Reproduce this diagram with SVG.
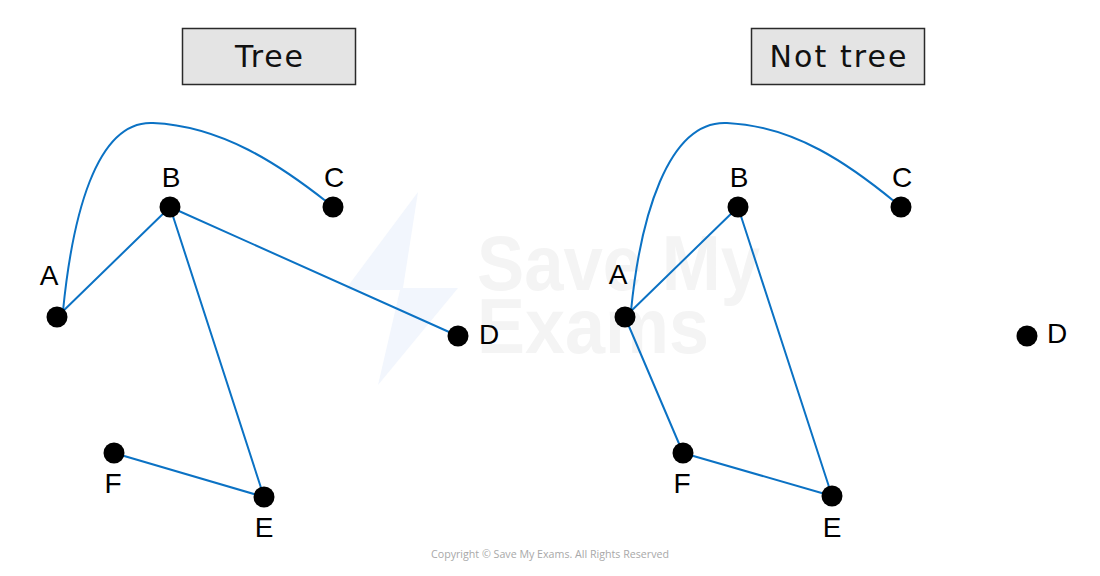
<svg xmlns="http://www.w3.org/2000/svg" width="1100" height="576" viewBox="0 0 1100 576">
<style>
.edge{fill:none;stroke:#0b72c4;stroke-width:2;stroke-linecap:round}
.node{fill:#000}
.lbl{font-family:"Liberation Sans",Arial,sans-serif;font-size:28px;fill:#000}
.title{font-family:"DejaVu Sans",sans-serif;font-size:30px;fill:#111}
.box{fill:#e4e4e4;stroke:#2a2a2a;stroke-width:1.5}
</style>
<rect width="1100" height="576" fill="#fff"/>
<g id="watermark">
<polygon points="418,192 345,290 400,290 378,385 458,288 403,288" fill="#f2f6fd"/>
<text x="477" y="290" font-family="Liberation Sans,Arial,sans-serif" font-size="78" font-weight="bold" fill="#f4f4f4" textLength="283" lengthAdjust="spacingAndGlyphs">Save My</text>
<text x="477" y="353" font-family="Liberation Sans,Arial,sans-serif" font-size="78" font-weight="bold" fill="#f4f4f4" textLength="232" lengthAdjust="spacingAndGlyphs">Exams</text>
</g>
<g id="title-tree">
<rect class="box" x="182.5" y="28.5" width="173" height="56"/>
<text class="title" x="269" y="67" text-anchor="middle" textLength="68" lengthAdjust="spacing">Tree</text>
</g>
<g id="title-not-tree">
<rect class="box" x="751.5" y="28.5" width="173" height="56"/>
<text class="title" x="838" y="67" text-anchor="middle" textLength="137" lengthAdjust="spacing">Not tree</text>
</g>
<g id="connectors">
<path class="edge" d="M 63 311 C 72 220 95 120 153 123 C 222 126 280 165 327 202"/>
<line class="edge" x1="57" y1="317" x2="170" y2="207"/>
<line class="edge" x1="170" y1="207" x2="458" y2="336"/>
<line class="edge" x1="170" y1="207" x2="264" y2="497"/>
<line class="edge" x1="114" y1="453" x2="264" y2="497"/>
<path class="edge" d="M 631 311 C 640 220 667 120 727 123 C 795 126 850 165 895 202"/>
<line class="edge" x1="625" y1="317" x2="738" y2="207"/>
<line class="edge" x1="738" y1="207" x2="832" y2="496"/>
<line class="edge" x1="625" y1="317" x2="683" y2="453"/>
<line class="edge" x1="683" y1="453" x2="832" y2="496"/>
</g>
<g id="L-A"><circle class="node" cx="57" cy="317" r="10.5"/><text class="lbl" x="49" y="285" text-anchor="middle">A</text></g>
<g id="L-B"><circle class="node" cx="170" cy="207" r="10.5"/><text class="lbl" x="171" y="187" text-anchor="middle">B</text></g>
<g id="L-C"><circle class="node" cx="333" cy="207" r="10.5"/><text class="lbl" x="334" y="187" text-anchor="middle">C</text></g>
<g id="L-D"><circle class="node" cx="458" cy="336" r="10.5"/><text class="lbl" x="479" y="344">D</text></g>
<g id="L-E"><circle class="node" cx="264" cy="497" r="10.5"/><text class="lbl" x="264" y="537" text-anchor="middle">E</text></g>
<g id="L-F"><circle class="node" cx="114" cy="453" r="10.5"/><text class="lbl" x="113" y="493" text-anchor="middle">F</text></g>
<g id="R-A"><circle class="node" cx="625" cy="317" r="10.5"/><text class="lbl" x="618" y="284" text-anchor="middle">A</text></g>
<g id="R-B"><circle class="node" cx="738" cy="207" r="10.5"/><text class="lbl" x="739" y="187" text-anchor="middle">B</text></g>
<g id="R-C"><circle class="node" cx="901" cy="207" r="10.5"/><text class="lbl" x="902" y="187" text-anchor="middle">C</text></g>
<g id="R-D"><circle class="node" cx="1027" cy="336" r="10.5"/><text class="lbl" x="1047" y="343">D</text></g>
<g id="R-E"><circle class="node" cx="832" cy="496" r="10.5"/><text class="lbl" x="832" y="537" text-anchor="middle">E</text></g>
<g id="R-F"><circle class="node" cx="683" cy="453" r="10.5"/><text class="lbl" x="682" y="493" text-anchor="middle">F</text></g>
<text x="550" y="558" text-anchor="middle" font-family="Open Sans,Liberation Sans,sans-serif" font-size="11" fill="#a8a8a8" textLength="238" lengthAdjust="spacingAndGlyphs">Copyright © Save My Exams. All Rights Reserved</text>
</svg>
